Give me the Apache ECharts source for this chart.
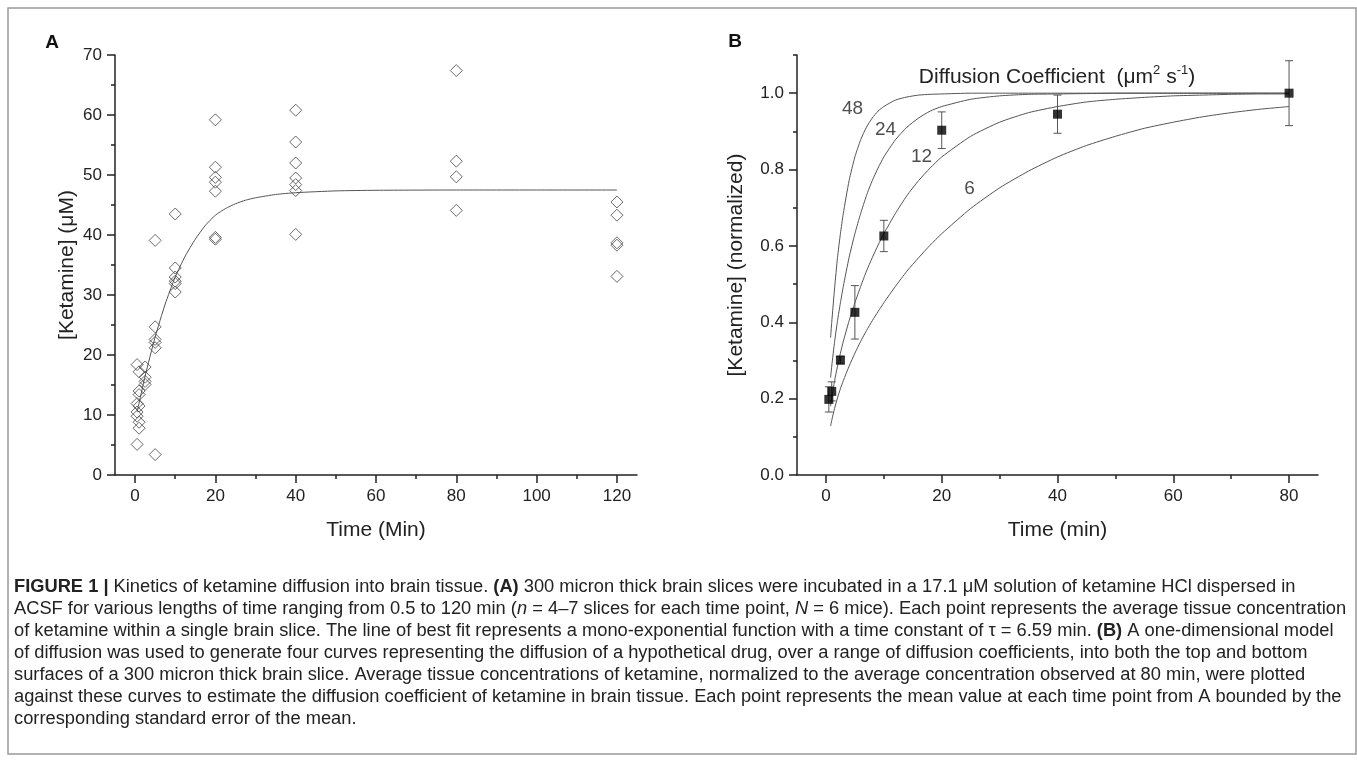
<!DOCTYPE html>
<html>
<head>
<meta charset="utf-8">
<title>Ketamine diffusion</title>
<script src="https://cdn.jsdelivr.net/npm/echarts@6.0.0/dist/echarts.min.js"></script>
<style>
	html, body { margin: 0; padding: 0; background: #fff; }
	#main { width: 1357px; height: 760px; }
</style>
</head>
<body>
<div id="main"></div>
<script>
// panel A: single slices, time (min) and concentration (uM)
var aPointTime = [
	0.5, 0.5, 0.5, 0.5, 0.5,
	1, 1, 1, 1, 1, 1,
	2.5, 2.5, 2.5, 2.5,
	5, 5, 5, 5, 5, 5,
	10, 10, 10, 10, 10, 10,
	20, 20, 20, 20, 20, 20, 20,
	40, 40, 40, 40, 40, 40, 40,
	80, 80, 80, 80,
	120, 120, 120, 120, 120
];
var aPointConc = [
	18.4, 11.9, 10.5, 9.8, 5.1,
	17.2, 14.0, 13.4, 11.5, 8.8, 7.8,
	18.0, 16.3, 15.6, 15.1,
	39.1, 24.7, 22.6, 22.1, 21.2, 3.4,
	43.5, 34.5, 33.0, 32.3, 31.9, 30.5,
	59.2, 51.3, 49.6, 48.8, 47.3, 39.6, 39.3,
	60.8, 55.5, 52.0, 49.5, 48.4, 47.4, 40.1,
	67.4, 52.3, 49.7, 44.1,
	45.5, 43.3, 38.7, 38.3, 33.1
];
// line of best fit
var fitTime = [0.5, 1, 2.5, 5, 7.5, 10, 12.5, 15, 17.5, 20, 22.5, 25, 27.5, 30, 35, 40, 50, 60, 80, 100, 120];
var fitConc = [10.5, 12, 16.5, 23, 28.5, 33, 36.5, 39.3, 41.6, 43.3, 44.4, 45.2, 45.8, 46.2, 46.75, 47.05, 47.35, 47.45, 47.5, 47.5, 47.5];

// panel B: model curves for four diffusion coefficients
var curveTime = [0.8, 1, 1.5, 2, 2.5, 3, 4, 5, 6, 7, 8, 9, 10, 12, 14, 16, 18, 20, 25, 30, 35, 40, 45, 50, 55, 60, 65, 70, 75, 80];
var curve48 = [0.36, 0.40, 0.49, 0.57, 0.632, 0.685, 0.771, 0.833, 0.878, 0.911, 0.935, 0.953, 0.965, 0.982, 0.990, 0.995, 0.997, 0.998, 1.0, 1.0, 1.0, 1.0, 1.0, 1.0, 1.0, 1.0, 1.0, 1.0, 1.0, 1.0];
var curve24 = [0.255, 0.285, 0.35, 0.404, 0.451, 0.494, 0.57, 0.632, 0.685, 0.732, 0.771, 0.804, 0.833, 0.878, 0.911, 0.935, 0.953, 0.965, 0.984, 0.993, 0.997, 0.998, 0.999, 1.0, 1.0, 1.0, 1.0, 1.0, 1.0, 1.0];
var curve12 = [0.18, 0.202, 0.247, 0.285, 0.319, 0.35, 0.404, 0.451, 0.494, 0.534, 0.569, 0.602, 0.632, 0.685, 0.732, 0.771, 0.804, 0.833, 0.887, 0.924, 0.949, 0.965, 0.977, 0.984, 0.989, 0.993, 0.995, 0.997, 0.998, 0.998];
var curve6 = [0.128, 0.143, 0.175, 0.202, 0.226, 0.247, 0.285, 0.319, 0.35, 0.378, 0.404, 0.428, 0.451, 0.494, 0.534, 0.569, 0.602, 0.632, 0.698, 0.752, 0.796, 0.833, 0.863, 0.887, 0.908, 0.924, 0.938, 0.949, 0.958, 0.965];
var curveNames = ['48', '24', '12', '6'];
var curveLabelTime = [4.6, 10.3, 16.5, 24.8];
var curveLabelConc = [0.96, 0.903, 0.833, 0.75];

// panel B: normalized means with SEM
var bTime = [0.5, 1, 2.5, 5, 10, 20, 40, 80];
var bMean = [0.198, 0.219, 0.301, 0.426, 0.626, 0.903, 0.945, 1.0];
var bSem = [0.033, 0.025, 0.01, 0.07, 0.041, 0.048, 0.05, 0.085];

// ticks
var aXTicks = [0, 20, 40, 60, 80, 100, 120];
var aXMinor = [10, 30, 50, 70, 90, 110];
var aYTicks = [0, 10, 20, 30, 40, 50, 60, 70];
var aYMinor = [5, 15, 25, 35, 45, 55, 65];
var bXTicks = [0, 20, 40, 60, 80];
var bXMinor = [10, 30, 50, 70];
var bYTicks = [0, 0.2, 0.4, 0.6, 0.8, 1.0];
var bYMinor = [0.1, 0.3, 0.5, 0.7, 0.9, 1.1];

var FONT = '"Liberation Sans", Arial, Helvetica, sans-serif';
var INK = '#222';
var CURVE = '#555';

function zip(xs, ys) {
	return xs.map(function (x, i) { return [x, ys[i]]; });
}

function majorAxis(opt) {
	return Object.assign({
		type: 'value',
		nameLocation: 'middle',
		nameTextStyle: { fontSize: 21, color: INK, fontFamily: FONT },
		axisLine: { show: true, onZero: false, lineStyle: { color: INK, width: 1.5 } },
		axisTick: { show: true, length: 8, customValues: opt.ticks, lineStyle: { color: INK, width: 1.5 } },
		axisLabel: { show: true, customValues: opt.ticks, fontSize: 17, color: INK, fontFamily: FONT, margin: 13 },
		splitLine: { show: false }
	}, opt.extra);
}

// second axis on the same side, only for the short ticks
function minorAxis(opt) {
	return Object.assign({
		type: 'value',
		axisLine: { show: false, onZero: false },
		axisTick: { show: true, length: 4, customValues: opt.ticks, lineStyle: { color: INK, width: 1.5 } },
		axisLabel: { show: false },
		splitLine: { show: false }
	}, opt.extra);
}

var myChart = echarts.init(document.getElementById('main'), null, { renderer: 'canvas' });

var option = {
	animation: false,
	backgroundColor: '#fff',
	textStyle: { fontFamily: FONT },
	grid: [
		{ left: 115, right: 720, top: 55, bottom: 285 },
		{ left: 797, right: 39, top: 55, bottom: 285 }
	],
	xAxis: [
		majorAxis({ ticks: aXTicks, extra: { gridIndex: 0, position: 'bottom', min: -5, max: 125, name: 'Time (Min)', nameGap: 45 } }),
		minorAxis({ ticks: aXMinor, extra: { gridIndex: 0, position: 'bottom', min: -5, max: 125 } }),
		majorAxis({ ticks: bXTicks, extra: { gridIndex: 1, position: 'bottom', min: -5, max: 85, name: 'Time (min)', nameGap: 45 } }),
		minorAxis({ ticks: bXMinor, extra: { gridIndex: 1, position: 'bottom', min: -5, max: 85 } })
	],
	yAxis: [
		majorAxis({ ticks: aYTicks, extra: { gridIndex: 0, position: 'left', min: 0, max: 70, name: '[Ketamine] (\u03bcM)', nameGap: 37 } }),
		minorAxis({ ticks: aYMinor, extra: { gridIndex: 0, position: 'left', min: 0, max: 70 } }),
		majorAxis({ ticks: bYTicks, extra: {
			gridIndex: 1, position: 'left', min: 0, max: 1.1, name: '[Ketamine] (normalized)', nameGap: 50,
			axisLabel: { show: true, customValues: bYTicks, fontSize: 17, color: INK, fontFamily: FONT, margin: 13,
				formatter: function (v) { return v.toFixed(1); } }
		} }),
		minorAxis({ ticks: bYMinor, extra: { gridIndex: 1, position: 'left', min: 0, max: 1.1 } })
	],
	graphic: [
		{
			type: 'rect', silent: true,
			shape: { x: 8, y: 8, width: 1348, height: 746 },
			style: { fill: 'none', stroke: '#999', lineWidth: 1.5 }
		},
		{
			type: 'text', x: 52, y: 43,
			style: { text: 'A', font: 'bold 19px ' + FONT, fill: '#111', align: 'center', verticalAlign: 'middle' }
		},
		{
			type: 'text', x: 735, y: 42,
			style: { text: 'B', font: 'bold 19px ' + FONT, fill: '#111', align: 'center', verticalAlign: 'middle' }
		},
		{
			type: 'text', x: 1057, y: 77,
			style: {
				text: 'Diffusion Coefficient  (\u03bcm{sup|2} s{sup|-1})',
				fontSize: 21, fontFamily: FONT, fill: INK, lineHeight: 26,
				align: 'center', verticalAlign: 'middle',
				rich: {
					sup: { fontSize: 13, fontFamily: FONT, fill: INK, verticalAlign: 'top', lineHeight: 26 }
				}
			}
		},
		{
			type: 'text', x: 14, y: 576,
			style: {
				text: [
					'{b|FIGURE 1 |} Kinetics of ketamine diffusion into brain tissue. {b|(A)} 300 micron thick brain slices were incubated in a 17.1 \u03bcM solution of ketamine HCl dispersed in',
					'ACSF for various lengths of time ranging from 0.5 to 120 min ({i|n} = 4\u20137 slices for each time point, {i|N} = 6 mice). Each point represents the average tissue concentration',
					'of ketamine within a single brain slice. The line of best fit represents a mono-exponential function with a time constant of \u03c4 = 6.59 min. {b|(B)} A one-dimensional model',
					'of diffusion was used to generate four curves representing the diffusion of a hypothetical drug, over a range of diffusion coefficients, into both the top and bottom',
					'surfaces of a 300 micron thick brain slice. Average tissue concentrations of ketamine, normalized to the average concentration observed at 80 min, were plotted',
					'against these curves to estimate the diffusion coefficient of ketamine in brain tissue. Each point represents the mean value at each time point from A bounded by the',
					'corresponding standard error of the mean.'
				].join('\n'),
				fontSize: 18.3, fontFamily: FONT, fill: INK, lineHeight: 22,
				align: 'left', verticalAlign: 'top',
				rich: {
					b: { fontSize: 18.3, fontFamily: FONT, fontWeight: 'bold', fill: INK, lineHeight: 22 },
					i: { fontSize: 18.3, fontFamily: FONT, fontStyle: 'italic', fill: INK, lineHeight: 22 }
				}
			}
		}
	],
	series: [
		{
			name: 'fit',
			type: 'line',
			xAxisIndex: 0, yAxisIndex: 0,
			data: zip(fitTime, fitConc),
			smooth: 0.2,
			symbol: 'none',
			lineStyle: { color: CURVE, width: 1 },
			z: 2
		},
		{
			name: 'slices',
			type: 'scatter',
			xAxisIndex: 0, yAxisIndex: 0,
			data: zip(aPointTime, aPointConc),
			symbol: 'diamond',
			symbolSize: [12, 12],
			itemStyle: { color: 'rgba(255,255,255,0)', borderColor: '#444', borderWidth: 1 },
			z: 3
		}
	].concat([curve48, curve24, curve12, curve6].map(function (c, i) {
		return {
			name: 'D ' + curveNames[i],
			type: 'line',
			xAxisIndex: 2, yAxisIndex: 2,
			data: zip(curveTime, c),
			smooth: 0.2,
			symbol: 'none',
			lineStyle: { color: CURVE, width: 1 },
			z: 2
		};
	})).concat([
		{
			name: 'curve labels',
			type: 'scatter',
			xAxisIndex: 2, yAxisIndex: 2,
			data: curveNames.map(function (n, i) { return [curveLabelTime[i], curveLabelConc[i], n]; }),
			symbolSize: 0,
			silent: true,
			label: {
				show: true, position: 'inside',
				formatter: function (p) { return p.value[2]; },
				fontSize: 19, color: INK, fontFamily: FONT
			}
		},
		{
			name: 'sem',
			type: 'custom',
			xAxisIndex: 2, yAxisIndex: 2,
			data: bTime.map(function (t, i) { return [t, bMean[i], bSem[i]]; }),
			encode: { x: 0, y: 1 },
			renderItem: function (params, api) {
				var t = api.value(0), m = api.value(1), e = api.value(2);
				var top = api.coord([t, m + e]);
				var bot = api.coord([t, m - e]);
				var w = 4;
				var st = { stroke: '#555', lineWidth: 1 };
				return {
					type: 'group',
					children: [
						{ type: 'line', shape: { x1: top[0], y1: top[1], x2: bot[0], y2: bot[1] }, style: st },
						{ type: 'line', shape: { x1: top[0] - w, y1: top[1], x2: top[0] + w, y2: top[1] }, style: st },
						{ type: 'line', shape: { x1: bot[0] - w, y1: bot[1], x2: bot[0] + w, y2: bot[1] }, style: st }
					]
				};
			},
			z: 3
		},
		{
			name: 'mean',
			type: 'scatter',
			xAxisIndex: 2, yAxisIndex: 2,
			data: zip(bTime, bMean),
			symbol: 'rect',
			symbolSize: 9,
			itemStyle: { color: '#000' },
			z: 4
		}
	])
};

myChart.setOption(option);
</script>
</body>
</html>
